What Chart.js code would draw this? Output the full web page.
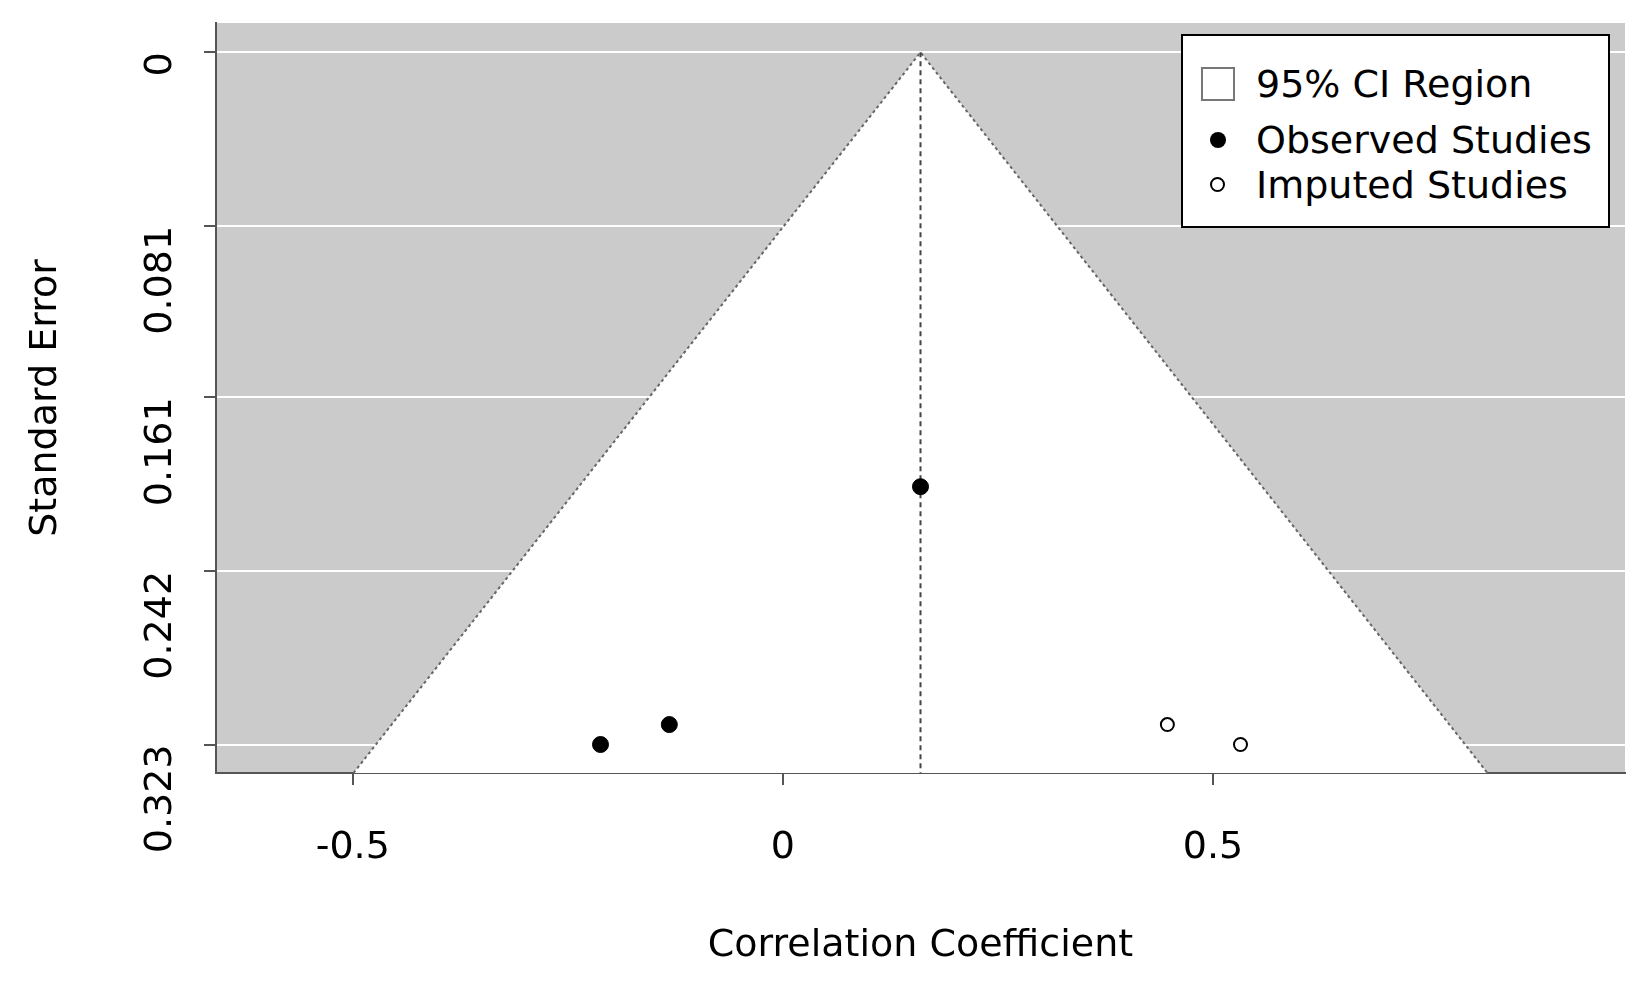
<!DOCTYPE html>
<html>
<head>
<meta charset="utf-8">
<script src="https://cdn.jsdelivr.net/npm/chart.js@4/dist/chart.umd.min.js"></script>
<style>
  body { margin: 0; background: #fff; }
  #wrap { position: relative; width: 1647px; height: 984px; }
  #legend {
    position: absolute; left: 1181px; top: 34px; width: 425px; height: 190px;
    border: 2px solid #000; background: #fff; font: 38px "DejaVu Sans", sans-serif; color: #000;
  }
  .row { position: absolute; left: 73px; line-height: 44px; }
  .sym { position: absolute; display: inline-block; box-sizing: border-box; }
</style>
</head>
<body>
<div id="wrap">
  <canvas id="c" width="1647" height="984"></canvas>
  <div id="legend">
    <div class="row" style="top:26px">95% CI Region<span class="sym" style="top:5px;left:-55px;width:34px;height:34px;border:2px solid #777"></span></div>
    <div class="row" style="top:82px">Observed Studies<span class="sym" style="top:14px;left:-46px;width:16px;height:16px;border-radius:50%;background:#000"></span></div>
    <div class="row" style="top:127px">Imputed Studies<span class="sym" style="top:14px;left:-46px;width:15px;height:15px;border-radius:50%;border:2px solid #000"></span></div>
  </div>
</div>
<script>
const summaryEffect = 0.160;
const seMax = 0.3363;
const yTicks = [0, 0.081, 0.161, 0.242, 0.323];
const xTicks = [-0.5, 0, 0.5];
const observedX = [0.160, -0.212, -0.132];
const observedSE = [0.2027, 0.323, 0.3137];
const imputedX = [0.447, 0.532];
const imputedSE = [0.3137, 0.323];

const funnel = [
    { x: summaryEffect - 1.96 * seMax, y: seMax },
    { x: summaryEffect, y: 0 },
    { x: summaryEffect + 1.96 * seMax, y: seMax }
];

const grayBg = {
    id: 'grayBg',
    beforeDraw(chart) {
        const { ctx, chartArea: a } = chart;
        ctx.save();
        ctx.fillStyle = '#cbcbcb';
        ctx.fillRect(a.left, a.top, a.right - a.left, a.bottom - a.top);
        ctx.restore();
    }
};

const font = { family: '"DejaVu Sans", sans-serif', size: 38 };

new Chart(document.getElementById('c'), {
    type: 'scatter',
    plugins: [grayBg],
    data: {
        datasets: [
            {
                type: 'line', data: funnel, fill: 'start', backgroundColor: '#fff',
                borderColor: '#666', borderWidth: 2, borderDash: [3, 3], pointRadius: 0, order: 3
            },
            {
                type: 'line', data: [{ x: summaryEffect, y: 0 }, { x: summaryEffect, y: seMax }],
                borderColor: '#444', borderWidth: 2, borderDash: [5, 4], pointRadius: 0, order: 2
            },
            {
                data: observedX.map((x, i) => ({ x, y: observedSE[i] })),
                pointRadius: 8, backgroundColor: '#000', borderColor: '#000', order: 1
            },
            {
                data: imputedX.map((x, i) => ({ x, y: imputedSE[i] })),
                pointRadius: 6.5, backgroundColor: '#fff', borderColor: '#000', borderWidth: 2, order: 1
            }
        ]
    },
    options: {
        responsive: false,
        animation: false,
        layout: { padding: { top: 23, right: 22 } },
        plugins: { legend: { display: false }, tooltip: { enabled: false } },
        scales: {
            x: {
                type: 'linear', min: -0.659, max: 0.979,
                afterBuildTicks: s => { s.ticks = xTicks.map(v => ({ value: v })); },
                afterFit: s => { s.height = 211; s.paddingLeft = 0; s.paddingRight = 0; },
                ticks: { font, color: '#000', padding: 40, maxRotation: 0, callback: v => String(v) },
                grid: { drawOnChartArea: false, tickLength: 12, tickColor: '#555', lineWidth: 2 },
                border: { color: '#555', width: 2 },
                title: { display: true, text: 'Correlation Coefficient', font, color: '#000', padding: { top: 0, bottom: 15 } }
            },
            y: {
                type: 'linear', reverse: true, min: -0.0137, max: seMax,
                afterBuildTicks: s => { s.ticks = yTicks.map(v => ({ value: v })); },
                afterFit: s => { s.width = 216; s.paddingTop = 0; s.paddingBottom = 0; },
                ticks: { font, color: '#000', padding: 43, minRotation: 90, maxRotation: 90, callback: v => String(v) },
                grid: { color: '#fff', lineWidth: 2, tickLength: 12, tickColor: '#555' },
                border: { color: '#555', width: 2 },
                title: { display: true, text: 'Standard Error', font, color: '#000', padding: { top: 23, bottom: 0 } }
            }
        }
    }
});
</script>
</body>
</html>
